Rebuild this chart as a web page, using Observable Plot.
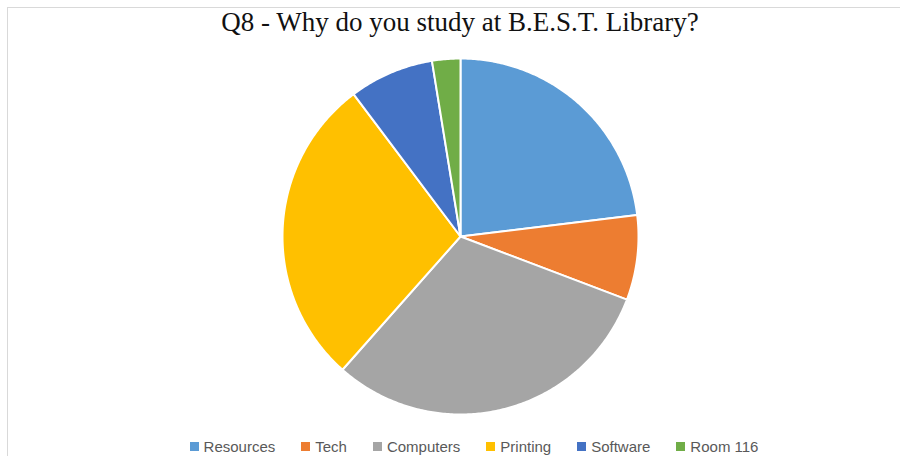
<!DOCTYPE html>
<html>
<head>
<meta charset="utf-8">
<script src="https://cdn.jsdelivr.net/npm/d3@7"></script>
<script src="https://cdn.jsdelivr.net/npm/@observablehq/plot@0.6"></script>
<style>
  html, body { margin: 0; padding: 0; background: #fff; overflow: hidden; width: 900px; height: 456px; }
  #frame { position: absolute; left: 7px; top: 7px; width: 1000px; height: 1000px; border: 1px solid #d9d9d9; box-sizing: border-box; }
  #chart { position: absolute; left: 0; top: 0; }
  #title { position: absolute; left: 0; top: 7px; width: 920px; text-align: center;
           font-family: "Liberation Serif", "Times New Roman", serif; font-size: 27px; color: #111; }
  #legend { position: absolute; left: 0; top: 438px; width: 948px; display: flex; justify-content: center;
            font-family: "Liberation Sans", Arial, sans-serif; font-size: 15px; color: #595959; }
  .item { display: flex; align-items: center; margin: 0 13px; }
  .sw { width: 9px; height: 9px; margin-right: 5px; }
</style>
</head>
<body>
<div id="frame"></div>
<div id="chart"></div>
<div id="title">Q8 - Why do you study at B.E.S.T. Library?</div>
<div id="legend"></div>
<script>
const categories = ["Resources", "Tech", "Computers", "Printing", "Software", "Room 116"];
const values = [9, 3, 12, 11, 3, 1];
const colors = ["#5B9BD5", "#ED7D31", "#A5A5A5", "#FFC000", "#4472C4", "#70AD47"];

const data = categories.map((c, i) => ({category: c, value: values[i]}));
const arcs = d3.pie().sort(null).value(d => d.value)(data);

// build slice polygons on a unit circle (angle clockwise from 12 o'clock)
const slices = arcs.map(a => {
  const n = Math.max(4, Math.ceil((a.endAngle - a.startAngle) / 0.01));
  const ring = [[0, 0]];
  for (let k = 0; k <= n; k++) {
    const t = a.startAngle + (a.endAngle - a.startAngle) * k / n;
    ring.push([Math.sin(t), Math.cos(t)]);
  }
  ring.push([0, 0]);
  return {type: "Feature", properties: {category: a.data.category, value: a.data.value},
          geometry: {type: "Polygon", coordinates: [ring]}};
});

const chart = Plot.plot({
  width: 900,
  height: 456,
  margin: 0,
  projection: {
    type: "reflect-y",
    domain: {type: "MultiPoint", coordinates: [[-1, -1], [1, 1]]},
    insetLeft: 282, insetRight: 262, insetTop: 58, insetBottom: 42
  },
  color: {domain: categories, range: colors},
  marks: [
    Plot.geo(slices, {fill: d => d.properties.category, stroke: "white", strokeWidth: 2, strokeLinejoin: "round"})
  ]
});
document.getElementById("chart").appendChild(chart);

const legend = document.getElementById("legend");
categories.forEach((c, i) => {
  const it = document.createElement("div");
  it.className = "item";
  const sw = document.createElement("div");
  sw.className = "sw";
  sw.style.background = colors[i];
  const lb = document.createElement("span");
  lb.textContent = c;
  it.appendChild(sw); it.appendChild(lb);
  legend.appendChild(it);
});
</script>
</body>
</html>
